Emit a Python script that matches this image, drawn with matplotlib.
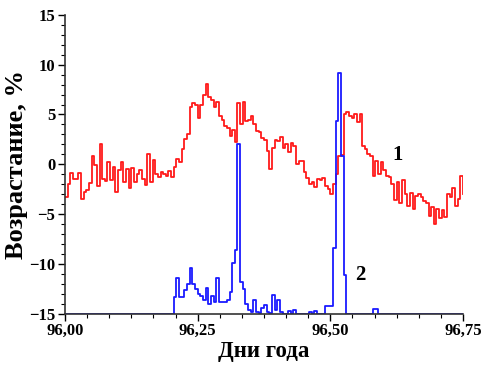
import matplotlib.pyplot as plt
import numpy as np
from matplotlib.ticker import MultipleLocator

# time grid (days of year), 0.005 day per step
day_start = 96.0
day_step = 0.005

# curve 1 (red)
red_vals = [
    -3.3, -2.0, -0.9, -1.5, -1.5, -0.9, -3.5, -2.8, -2.6, -1.9,
    0.8, -0.1, -2.2, 2.0, -1.5, -1.7, 0.2, -1.6, -0.3, -2.8,
    -0.6, 0.2, -1.8, -0.5, -2.4, -0.4, -1.8, -1.0, -0.6, -1.5,
    -2.1, 1.0, -1.8, 0.4, -1.0, -1.3, -0.8, -1.0, -1.2, -0.7,
    -1.3, -0.3, 0.5, 0.2, 1.5, 2.5, 3.0, 5.8, 6.2, 6.0,
    4.6, 6.0, 7.0, 8.1, 6.8, 6.5, 5.8, 6.3, 4.8, 4.4,
    3.8, 3.6, 2.8, 3.4, 2.2, 6.2, 4.0, 6.3, 4.3, 4.4,
    4.8, 4.0, 3.3, 3.2, 2.6, 2.4, 1.3, -0.5, 1.6, 2.4,
    2.3, 2.7, 1.6, 2.0, 1.2, 2.1, 1.8, 0.0, 0.3, 0.3,
    -0.8, -1.4, -2.0, -1.8, -2.3, -1.5, -1.6, -1.4, -2.2, -2.5,
    -3.0, -2.0, -1.0, 0.8, 0.9, 5.0, 5.2, 4.8, 4.6, 5.0,
    4.2, 5.0, 1.8, 1.5, 1.0, 0.8, -1.2, 0.3, -1.0, 0.2,
    -0.6, -1.2, -1.3, -2.0, -3.6, -1.8, -3.9, -1.6, -3.0, -4.2,
    -2.9, -4.5, -3.2, -3.0, -3.3, -3.7, -3.9, -5.2, -4.3, -6.0,
    -4.5, -5.4, -4.6, -5.3, -3.0, -3.3, -2.4, -4.2, -3.5, -1.2,
    -3.0,
]

# curve 2 (blue)
blue_vals = (
    [-15.0] * 41
    + [-13.3, -11.4, -13.3, -13.3, -12.6, -12.0, -10.4, -12.0, -12.5,
       -13.0, -13.2, -13.6, -12.4, -14.0, -13.2, -13.8, -11.4, -13.8, -13.8,
       -13.8, -13.6, -12.8, -9.9, -8.6, 2.0, -11.8, -12.5, -14.0, -14.6,
       -14.8, -13.6, -14.8, -14.9, -14.4, -14.1, -14.8, -14.9, -13.1, -14.6,
       -13.6, -14.8, -15.0, -15.0, -14.7, -15.0, -14.6, -15.0, -15.0, -15.0,
       -15.0, -15.0, -14.8, -15.0, -14.7, -15.0, -15.0, -15.0, -14.2, -14.2,
       -14.2, -8.4, 4.3, 9.2, 0.8, -11.1, -15.0, -15.0, -15.0, -15.0,
       -15.0, -15.0, -15.0, -15.0, -15.0, -15.0, -14.5, -14.5]
    + [-15.0] * 33
)

x_ticks = [96.0, 96.25, 96.5, 96.75]
x_ticklabels = ["96,00", "96,25", "96,50", "96,75"]
y_ticks = [-15, -10, -5, 0, 5, 10, 15]

red_x = day_start + day_step * np.arange(len(red_vals))
blue_x = day_start + day_step * np.arange(len(blue_vals))

plt.rcParams['font.family'] = ['Liberation Serif', 'DejaVu Serif']
plt.rcParams['font.weight'] = 'bold'

fig = plt.figure(figsize=(4.83, 3.65), dpi=100)
ax = fig.add_axes([0.1346, 0.141, 0.824, 0.818])

ax.step(red_x, red_vals, where='post', color='#ff1a1a', lw=1.3)
ax.step(blue_x, blue_vals, where='post', color='#1a1aff', lw=1.3)

ax.text(96.627, 0.9, "1", fontsize=15, fontweight='bold', ha='center', va='center')
ax.text(96.556, -11.1, "2", fontsize=15, fontweight='bold', ha='center', va='center')

ax.set_xlim(96.0, 96.75)
ax.set_ylim(-15, 15)
ax.set_xticks(x_ticks)
ax.set_xticklabels(x_ticklabels)
ax.set_yticks(y_ticks)
ax.xaxis.set_minor_locator(MultipleLocator(1 / 24))
ax.yaxis.set_minor_locator(MultipleLocator(1))
ax.tick_params(which='major', direction='out', length=5, width=1, labelsize=12, pad=2)
ax.tick_params(which='minor', direction='out', length=3, width=0.8)

for s in ['top', 'right']:
    ax.spines[s].set_visible(False)
for s in ['left', 'bottom']:
    ax.spines[s].set_color('#333333')
    ax.spines[s].set_linewidth(1.2)

ax.set_xlabel("Дни года", fontsize=16.5, fontweight='bold', labelpad=1)
ax.set_ylabel("Возрастание, %", fontsize=19, fontweight='bold')
ax.yaxis.set_label_coords(-0.092, 0.5)

fig.savefig("out.png", dpi=100)
